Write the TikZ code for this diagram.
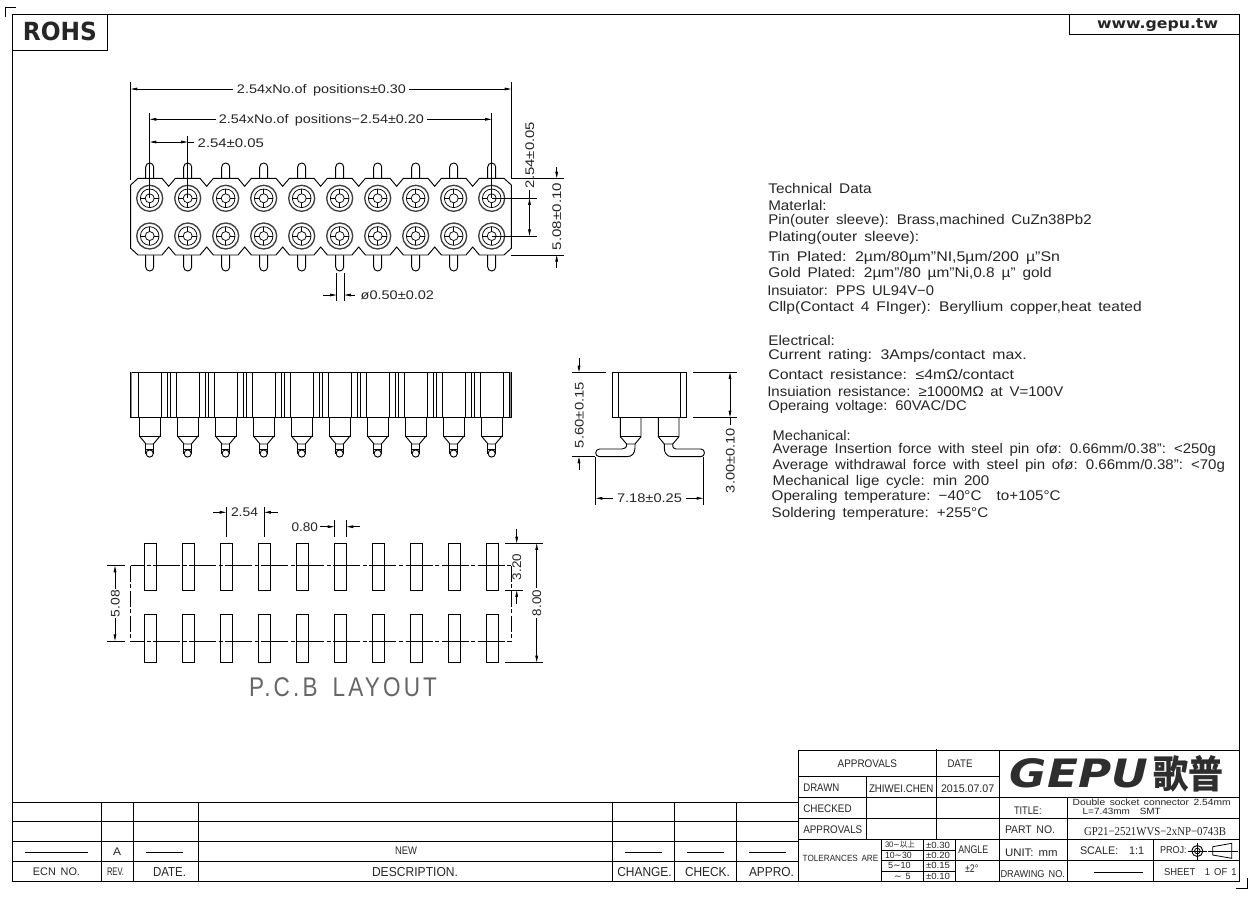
\documentclass[tikz,border=0pt]{standalone}
\usepackage{graphicx}
\usepackage{fontspec}
\setmainfont{Liberation Sans}[WordSpace=1.6]
\newfontfamily\cjkf{Noto Sans CJK TC}
\newfontfamily\boldf{DejaVu Sans}
\newfontfamily\serf{Liberation Serif}
\newfontfamily\spacedf{Liberation Sans}[LetterSpace=14,WordSpace=1.6]
\usetikzlibrary{arrows.meta}
\newdimen\px \px=0.75pt
\newcounter{tn}
\tikzset{
  lbl/.style={inner sep=0pt,outer sep=0pt,anchor=base,text=black!85},
  ln/.style={line width=0.7pt,black},
  dimn/.style={line width=0.6pt,black,arrows={-Triangle[length=5pt,width=2pt]}},
  dimb/.style={line width=0.6pt,black,arrows={Triangle[length=5pt,width=2pt]-Triangle[length=5pt,width=2pt]}},
  ext/.style={line width=0.6pt,black},
  cdash/.style={line width=0.6pt,black,dash pattern=on 20.25pt off 1.9pt on 3pt off 1.9pt},
  vdash/.style={line width=0.6pt,black,dash pattern=on 12pt off 1.9pt on 3pt off 1.9pt},
}
% horizontal text fitted between x1 and x2, cap-centre at y
\newcommand{\tx}[6][]{%
  \pgfmathsetmacro\tw{#3-#2}\pgfmathsetmacro\tm{(#2+#3)/2}\pgfmathsetmacro\tb{#4+0.36*#5}\pgfmathsetmacro\fsp{#5*0.75}%
  \stepcounter{tn}%
  \node[lbl,#1] (t\thetn) at (\tm,\tb) {\resizebox{\tw\px}{\height}{\fontsize{\fsp pt}{\fsp pt}\selectfont #6}};}
% rotated text: at x, between y1 (top) and y2 (bottom)
\newcommand{\txr}[5]{%
  \pgfmathsetmacro\tw{#3-#2}\pgfmathsetmacro\tm{(#2+#3)/2}\pgfmathsetmacro\tb{#1+0.36*#4}\pgfmathsetmacro\fsp{#4*0.75}%
  \stepcounter{tn}%
  \node[lbl,rotate=90] (t\thetn) at (\tb,\tm) {\resizebox{\tw\px}{\height}{\fontsize{\fsp pt}{\fsp pt}\selectfont #5}};}
\newcommand{\tl}{{\boldf ∼}}
\begin{document}
\begin{tikzpicture}[x=0.75pt,y=-0.75pt]
\useasboundingbox (0,0) rectangle (1254,897);
\fill[white] (0,0) rectangle (1254,897);
% frame and corners
\draw[ln] (12.5,14.5) rectangle (1239.5,881);
\draw[ln] (5.5,17) -- (5.5,7.5) -- (16,7.5);
\draw[ln] (1236,888) -- (1247,888) -- (1247,878);
\draw[ln] (12.5,50) -- (107,50) -- (107,14.5);
\draw[ln] (1069,14.5) -- (1069,34) -- (1239.5,34);
\tx[]{23}{97}{31.5}{25}{\boldf\bfseries ROHS}
\tx[]{1097}{1218}{23.5}{14}{\boldf\bfseries www.gepu.tw}

% ---- top view
\foreach \i in {0,...,9}{
  \pgfmathsetmacro\c{149.7+38*\i}
  \draw[ln,rounded corners=3pt] (\c-4,178.3) -- (\c-4,163) -- (\c+4,163) -- (\c+4,178.3);
  \draw[ln,rounded corners=3pt] (\c-4,255) -- (\c-4,271) -- (\c+4,271) -- (\c+4,255);
}
\draw[ln,fill=white] (130.7,185) -- (138,178.3)
  \foreach \i in {0,...,8}{ -- ({149.7+38*\i+12.3},178.3) -- ({149.7+38*\i+19},186.3) -- ({149.7+38*\i+25.7},178.3) }
  -- (504,178.3) -- (511.3,185) -- (511.3,248.3) -- (504,255)
  \foreach \i in {8,...,0}{ -- ({149.7+38*\i+25.7},255) -- ({149.7+38*\i+19},247) -- ({149.7+38*\i+12.3},255) }
  -- (138,255) -- (130.7,248.3) -- cycle;
\foreach \i in {0,...,9}{
  \pgfmathsetmacro\c{149.7+38*\i}
  \foreach \yy in {198.3,236}{
    \draw[line width=1pt,black!75] (\c,\yy) circle[radius=13];
    \draw[line width=0.55pt] (\c,\yy) circle[radius=9.3];
    \draw[line width=0.55pt] (\c,\yy) circle[radius=4.5];
    \draw[line width=0.55pt] (\c-9.3,\yy) -- (\c-4.5,\yy) (\c+4.5,\yy) -- (\c+9.3,\yy) (\c,\yy-9.3) -- (\c,\yy-4.5) (\c,\yy+4.5) -- (\c,\yy+9.3);
  }
}
% top dims
\draw[ext] (130.7,82) -- (130.7,180) (511.3,82) -- (511.3,178.3);
\draw[dimn] (233,89) -- (130.7,89);
\draw[dimn] (409,89) -- (511.3,89);
\tx[]{237}{406}{89}{12.5}{2.54xNo.of positions±0.30}
\draw[ext] (149.7,113) -- (149.7,198.3) (491.7,113) -- (491.7,198.3);
\draw[dimn] (216,119.3) -- (149.7,119.3);
\draw[dimn] (427,119.3) -- (491.7,119.3);
\tx[]{219}{424}{119}{12.5}{2.54xNo.of positions−2.54±0.20}
\draw[ext] (187.7,136) -- (187.7,198.3);
\draw[dimb] (149.7,142) -- (187.7,142);
\draw[ext] (187.7,142) -- (194,142);
\tx[]{197.7}{264}{143}{12.5}{2.54±0.05}
\draw[ext] (511.3,178.3) -- (564,178.3) (511.3,255) -- (564,255);
\draw[dimn] (556.7,167) -- (556.7,178.3);
\draw[dimn] (556.7,268) -- (556.7,255);
\txr{556.7}{183}{250}{12.5}{5.08±0.10}
\draw[ext] (491.7,198.3) -- (537,198.3) (491.7,236) -- (537,236);
\draw[dimb] (529.5,198.3) -- (529.5,236);
\draw[ext] (529.5,190) -- (529.5,198.3);
\txr{529.5}{122}{188}{12.5}{2.54±0.05}
\draw[ext] (336.7,273) -- (336.7,300.7) (344.3,273) -- (344.3,300.7);
\draw[dimn] (323,295) -- (336.7,295);
\draw[dimn] (355,295) -- (344.3,295);
\tx[]{360.7}{434}{295}{12.5}{ø0.50±0.02}

% ---- side view
\draw[ln] (130.7,372.3) rectangle (511.3,417.3);
\draw[line width=1pt,black!45] (131.7,372.3) -- (131.7,417.3);
\draw[line width=1pt,black!45] (510.3,372.3) -- (510.3,417.3);
\foreach \i in {0,...,9}{
  \pgfmathsetmacro\c{149.7+38*\i}
  \draw[ln] (\c-11.4,372.3) -- (\c-11.4,417.3) (\c+12,372.3) -- (\c+12,417.3) (\c+17.4,372.3) -- (\c+17.4,417.3);
  \draw[ln] (\c-10.3,417.3) -- (\c-10.3,436) -- (\c+10.3,436) -- (\c+10.3,417.3);
  \draw[ln] (\c-10.3,436) -- (\c-3.7,444) -- (\c+3.7,444) -- (\c+10.3,436);
  \draw[ln] (\c-4,444) -- (\c-4,453.5) (\c+4,444) -- (\c+4,453.5) (\c-4,449) -- (\c+4,449);
  \draw[ln] (\c,453.5) circle[radius=3.6];
}
\foreach \i in {0,...,8}{
  \pgfmathsetmacro\c{149.7+38*\i}
  \draw[ln] (\c+20.4,372.3) -- (\c+20.4,417.3);
}

% ---- end view
\draw[ln] (612.3,372.3) rectangle (686.7,417.3);
\draw[ln] (618.3,372.3) -- (618.3,417.3) (680.7,372.3) -- (680.7,417.3);
\draw[ln] (620.3,417.3) -- (620.3,436.7) -- (626.7,444) -- (635,444) -- (641,436.7) -- (641,417.3);
\draw[ln] (620.3,436.7) -- (641,436.7);
\draw[ln] (658.3,417.3) -- (658.3,436.7) -- (664.3,444) -- (672.7,444) -- (679,436.7) -- (679,417.3);
\draw[ln] (658.3,436.7) -- (679,436.7);
\draw[ln] (635,444) -- (635,448) .. controls (635,453) and (632,456.7) .. (627,456.7) -- (599.5,456.7) .. controls (594.5,456.7) and (594.5,449) .. (599.5,449) -- (622,449) .. controls (625,449) and (626.7,447.5) .. (626.7,444);
\draw[ln] (664.3,444) -- (664.3,448) .. controls (664.3,453) and (667,456.7) .. (672,456.7) -- (701,456.7) .. controls (705.5,456.7) and (705.5,449) .. (701,449) -- (676,449) .. controls (673.5,449) and (672.7,447.5) .. (672.7,444);
\draw[ext] (572.3,372.3) -- (605.7,372.3) (572.3,456.7) -- (595,456.7);
\draw[dimn] (579,358) -- (579,372.3);
\draw[dimn] (579,470) -- (579,456.7);
\txr{579}{382}{448}{12.5}{5.60±0.15}
\draw[ext] (693.3,372.3) -- (736.7,372.3) (693.3,417.3) -- (736.7,417.3);
\draw[dimb] (730,372.3) -- (730,417.3);
\draw[ext] (730,417.3) -- (730,425);
\txr{730}{428}{493}{12.5}{3.00±0.10}
\draw[ext] (595.7,456.7) -- (595.7,505) (703.3,456.7) -- (703.3,505);
\draw[dimn] (613,498.3) -- (595.7,498.3);
\draw[dimn] (686,498.3) -- (703.3,498.3);
\tx[]{617}{682}{498.3}{12.5}{7.18±0.25}

% ---- PCB layout
\draw[cdash,dash phase=10.3pt] (130.7,565.7) -- (511.3,565.7);
\draw[cdash,dash phase=10.3pt] (130.7,641) -- (511.3,641);
\draw[vdash] (130.7,565.7) -- (130.7,641);
\draw[vdash] (511.3,565.7) -- (511.3,641);
\foreach \i in {0,...,9}{
  \pgfmathsetmacro\c{150.3+38*\i}
  \draw[ln] (\c-6.1,543.3) rectangle (\c+6.1,590.3);
  \draw[ln] (\c-6.1,614.3) rectangle (\c+6.1,662.3);
}
\draw[ext] (107.3,565.7) -- (125,565.7) (107.3,641) -- (125,641);
\draw[dimb] (115,565.7) -- (115,641);
\fill[white] (110,589) rectangle (120,618);
\txr{115}{590}{617}{12.5}{5.08}
\draw[ext] (505,543.3) -- (542.7,543.3) (505,662.3) -- (542.7,662.3);
\draw[dimb] (536.7,543.3) -- (536.7,662.3);
\fill[white] (531,588) rectangle (542,618);
\txr{536.7}{590}{616}{12.5}{8.00}
\draw[ext] (505,590.3) -- (522.7,590.3);
\draw[dimn] (516.7,529) -- (516.7,543.3);
\draw[dimn] (516.7,604) -- (516.7,590.3);
\fill[white] (512,553) rectangle (522,581);
\txr{516.7}{554}{580}{12.5}{3.20}
\draw[ext] (226.3,506.7) -- (226.3,536.7) (264.3,506.7) -- (264.3,536.7);
\draw[dimn] (213.3,512.3) -- (226.3,512.3);
\draw[dimn] (277.7,512.3) -- (264.3,512.3);
\tx[]{231}{258}{512.3}{12.5}{2.54}
\draw[ext] (334.3,520) -- (334.3,536.7) (346.7,520) -- (346.7,536.7);
\draw[dimn] (320,526.7) -- (334.3,526.7);
\draw[dimn] (360,526.7) -- (346.7,526.7);
\tx[]{291.5}{318}{527}{12.5}{0.80}
\tx[text=black!60]{249}{437}{687}{27}{\spacedf P.C.B LAYOUT}

% ---- technical text
\tx[]{768.3}{871.7}{188.3}{14}{Technical Data}
\tx[]{768.3}{826.7}{205}{14}{Materlal:}
\tx[]{768.3}{1091.7}{219.3}{14}{Pin(outer sleeve): Brass,machined CuZn38Pb2}
\tx[]{768.3}{919.3}{236.7}{14}{Plating(outer sleeve):}
\tx[]{768.3}{1060}{256.7}{14}{Tin Plated: 2µm/80µm"NI,5µm/200 µ"Sn}
\tx[]{768.3}{1051.7}{272.3}{14}{Gold Plated: 2µm"/80 µm"Ni,0.8 µ" gold}
\tx[]{767.3}{934}{290.7}{14}{Insuiator: PPS UL94V−0}
\tx[]{768.3}{1141.7}{306.7}{14}{Cllp(Contact 4 FInger): Beryllium copper,heat teated}
\tx[]{768.3}{835}{340.7}{14}{Electrical:}
\tx[]{768.3}{1026.7}{354.3}{14}{Current rating: 3Amps/contact max.}
\tx[]{768.3}{1014}{374.3}{14}{Contact resistance: ≤4mΩ/contact}
\tx[]{767.3}{1063.3}{391.7}{14}{Insuiation resistance: ≥1000MΩ at V=100V}
\tx[]{768.3}{966.7}{405.7}{14}{Operaing voltage: 60VAC/DC}
\tx[]{772.7}{850.7}{435}{14}{Mechanical:}
\tx[]{772.7}{1216}{448.3}{14}{Average Insertion force with steel pin ofø: 0.66mm/0.38": <250g}
\tx[]{772.7}{1225}{464}{14}{Average withdrawal force with steel pin ofø: 0.66mm/0.38": <70g}
\tx[]{772.7}{989.3}{480}{14}{Mechanical lige cycle: min 200}
\tx[]{771.7}{1060.7}{495.7}{14}{Operaling temperature: −40°C\quad to+105°C}
\tx[]{771.7}{988.3}{512.7}{14}{Soldering temperature: +255°C}

% ---- revision table
\draw[ln] (12.5,802.3) -- (798.3,802.3) (12.5,821) -- (798.3,821) (12.5,841) -- (798.3,841) (12.5,861) -- (798.3,861);
\foreach \xx in {101.7,133.3,198.3,612.3,674.3,736.7}{\draw[ln] (\xx,802.3) -- (\xx,881);}
\draw[ln] (25,852.3) -- (88,852.3) (146,852.3) -- (182.7,852.3) (625,852.3) -- (661.7,852.3) (687.3,852.3) -- (723.7,852.3) (749,852.3) -- (785.7,852.3);
\tx[]{33}{80}{871.7}{11}{ECN NO.}
\tx[]{107}{124}{871.7}{11}{REV.}
\tx[]{153}{186}{872}{13}{DATE.}
\tx[]{113}{121}{851.7}{11}{A}
\tx[]{395}{417}{851}{11}{NEW}
\tx[]{372}{458}{871.5}{13}{DESCRIPTION.}
\tx[]{617.3}{671.7}{872}{13}{CHANGE.}
\tx[]{685}{730}{872}{13}{CHECK.}
\tx[]{749}{794}{872}{13}{APPRO.}

% ---- title block
\draw[ln] (798.3,750) -- (1239.5,750);
\draw[ln] (798.3,750) -- (798.3,881);
\draw[ln] (798.3,776.7) -- (999.3,776.7);
\draw[ln] (798.3,797.3) -- (1239.5,797.3) (798.3,818.3) -- (1239.5,818.3) (798.3,839.3) -- (1239.5,839.3);
\draw[ln] (866.7,776.7) -- (866.7,839.3) (936.7,749) -- (936.7,839.3) (999.3,750) -- (999.3,881) (1067.7,797.3) -- (1067.7,881) (1153.3,839.3) -- (1153.3,881);
\draw[ln] (955,860.7) -- (1239.5,860.7);
\draw[ln] (881.7,839.3) -- (881.7,881) (923.3,839.3) -- (923.3,881) (955,839.3) -- (955,881);
\draw[ln] (881.7,850.7) -- (955,850.7) (881.7,860.7) -- (955,860.7) (881.7,871) -- (955,871);
\tx[]{837.7}{897}{764}{11}{APPROVALS}
\tx[]{947.5}{972.5}{764}{11}{DATE}
\tx[]{803.3}{839.3}{787.7}{11}{DRAWN}
\tx[]{869}{933.3}{789}{11}{ZHIWEI.CHEN}
\tx[]{941}{994.3}{789}{11}{2015.07.07}
\tx[]{803.3}{851.7}{808.3}{11}{CHECKED}
\tx[]{803.3}{862.3}{829.3}{11}{APPROVALS}
\tx[]{1014}{1041.7}{810.7}{11}{TITLE:}
\tx[]{1072.7}{1230.7}{802.7}{9}{Double socket connector 2.54mm}
\tx[]{1082.7}{1160.7}{811}{9}{L=7.43mm\quad SMT}
\tx[]{1005}{1055}{829.5}{11}{PART NO.}
\tx[]{1084}{1226}{830.7}{12}{\serf GP21−2521WVS−2xNP−0743B}
\tx[]{1005}{1057.7}{852.3}{11}{UNIT: mm}
\tx[]{1080}{1144}{851}{11}{SCALE:\quad 1:1}
\tx[]{1160}{1186.7}{850}{10}{PROJ:}
\tx[]{1164}{1236.7}{871.7}{10}{SHEET\quad 1 OF 1}
\tx[]{1000.5}{1065}{874.3}{10}{DRAWING NO.}
\draw[ln] (1094,872.3) -- (1143.3,872.3);
\tx[]{802.7}{878.3}{858.3}{9}{TOLERANCES ARE}
\tx[]{958.3}{988.3}{850}{11}{ANGLE}
\tx[]{965}{978.3}{869}{11}{±2°}
\tx[]{885}{915}{845}{8}{30\tl{\cjkf 以上}}
\tx[]{885}{911.7}{855.5}{9}{10\tl 30}
\tx[]{888}{910.7}{865}{9}{5\tl 10}
\tx[]{894}{910.7}{876.7}{9}{\tl\ 5}
\tx[]{926}{950}{845.5}{9}{±0.30}
\tx[]{926}{950}{855.5}{9}{±0.20}
\tx[]{926}{950}{865.5}{9}{±0.15}
\tx[]{926}{950}{876.5}{9}{±0.10}
% projection symbol
\draw[line width=0.7pt] (1197.3,851) circle[radius=5.5];
\draw[line width=0.6pt] (1197.3,851) circle[radius=2.8];
\draw[line width=0.6pt] (1188,851) -- (1206.5,851) (1197.3,842.5) -- (1197.3,859.5);
\draw[line width=0.6pt] (1212.7,846.7) -- (1231.7,843.3) -- (1231.7,858.3) -- (1212.7,855) -- cycle;
\draw[line width=0.6pt] (1208.3,851) -- (1238,851);
% logo
\stepcounter{tn}
\node[lbl,text=black!82] (t\thetn) at (1079,787) {\resizebox{138\px}{29\px}{\boldf\bfseries\itshape GEPU}};
\stepcounter{tn}
\node[lbl,text=black!82] (t\thetn) at (1188,788) {\resizebox{70\px}{33\px}{\cjkf\bfseries 歌普}};
\end{tikzpicture}
\end{document}
